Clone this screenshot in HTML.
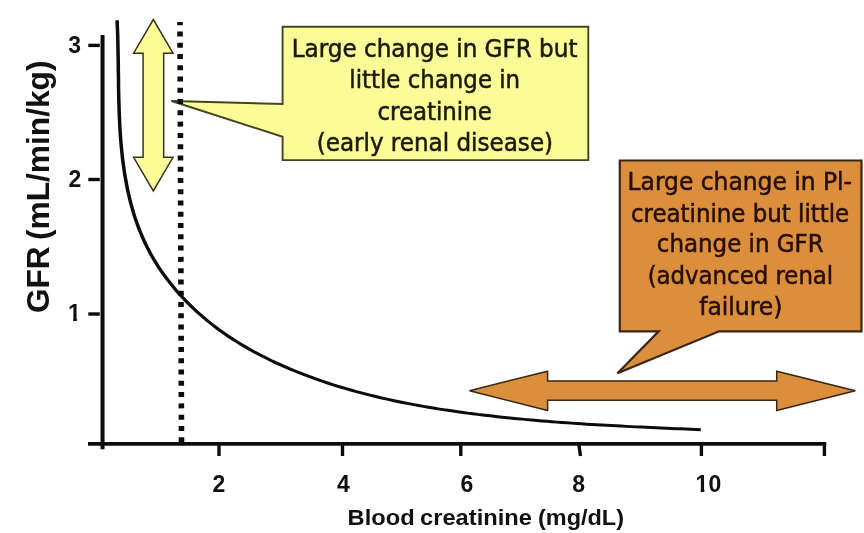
<!DOCTYPE html>
<html><head><meta charset="utf-8"><title>GFR vs blood creatinine</title>
<style>
html,body{margin:0;padding:0;background:#fff;}
body{width:864px;height:533px;overflow:hidden;}
svg{display:block;}
.ax{font-family:"Liberation Sans",sans-serif;font-weight:bold;fill:#111;}
.co{font-family:"DejaVu Sans Condensed","DejaVu Sans","Liberation Sans",sans-serif;font-size:25px;}
</style></head>
<body>
<svg width="864" height="533" viewBox="0 0 864 533">
<rect width="864" height="533" fill="#ffffff"/>
<defs>
<clipPath id="c1"><path d="M60 298 H90 V318 H76.9 V324 H73.2 V318 H60 Z"/></clipPath>
<clipPath id="c10"><path d="M690 470 H730 V496 H708.2 V489 H704.4 V496 H700.7 V489 H690 Z"/></clipPath>
</defs>

<!-- axes -->
<g stroke="#0c0c0c" stroke-width="4" fill="none" stroke-linecap="butt">
  <line x1="102.55" y1="35" x2="102.55" y2="449.3"/>
  <line x1="88" y1="443.9" x2="826.2" y2="443.9" stroke-width="3.6"/>
  <!-- y ticks -->
  <g stroke-width="3.4">
  <line x1="88.3" y1="45.4" x2="99.8" y2="45.4"/>
  <line x1="88.3" y1="179.5" x2="99.8" y2="179.5"/>
  <line x1="88.3" y1="314" x2="99.8" y2="314"/>
  <!-- x ticks -->
  <line x1="219" y1="444" x2="219" y2="456"/>
  <line x1="342.5" y1="444" x2="342.5" y2="456"/>
  <line x1="460.8" y1="444" x2="460.8" y2="456"/>
  <line x1="578.8" y1="444" x2="580.5" y2="456"/>
  <line x1="701.4" y1="444" x2="701.4" y2="456"/>
  <line x1="824.4" y1="444" x2="824.4" y2="456"/>
  </g>
</g>

<!-- curve -->
<path id="curve" transform="scale(1,0.85)" fill="none" stroke="#0c0c0c" stroke-width="3.5" stroke-linejoin="round" d="M117.1 23.8 L117.3 29.5 L117.5 35.3 L117.7 41.1 L117.8 46.9 L117.9 52.7 L118.0 58.5 L118.1 64.3 L118.2 70.1 L118.3 76.0 L118.3 81.8 L118.4 87.7 L118.5 93.5 L118.5 99.4 L118.6 105.3 L118.7 111.1 L118.8 117.0 L119.0 122.9 L119.1 128.7 L119.3 134.6 L119.5 140.5 L119.7 146.3 L120.0 152.2 L120.3 158.1 L120.7 163.9 L121.1 169.8 L121.6 175.7 L122.1 181.5 L122.6 187.4 L123.3 193.2 L124.0 199.0 L124.7 204.8 L125.6 210.6 L126.5 216.4 L127.4 222.2 L128.5 227.9 L129.6 233.6 L130.8 239.3 L132.2 244.9 L133.5 250.5 L135.0 256.0 L136.6 261.5 L138.3 267.0 L140.1 272.4 L142.0 277.8 L144.0 283.1 L146.1 288.3 L148.3 293.5 L150.6 298.6 L153.1 303.6 L155.6 308.6 L158.2 313.5 L161.0 318.4 L163.8 323.1 L166.8 327.8 L169.8 332.4 L172.9 337.0 L176.1 341.5 L179.4 345.9 L182.8 350.2 L186.2 354.4 L189.7 358.6 L193.3 362.7 L197.0 366.7 L200.7 370.6 L204.5 374.4 L208.3 378.2 L212.2 381.8 L216.2 385.4 L220.2 388.9 L224.2 392.3 L228.3 395.6 L232.5 398.8 L236.7 401.9 L240.9 405.0 L245.2 408.0 L249.5 410.9 L253.9 413.7 L258.3 416.5 L262.7 419.2 L267.2 421.8 L271.6 424.4 L276.1 426.9 L280.7 429.3 L285.2 431.6 L289.8 433.9 L294.4 436.2 L299.0 438.4 L303.7 440.5 L308.3 442.6 L313.0 444.6 L317.7 446.5 L322.3 448.4 L327.0 450.3 L331.8 452.1 L336.5 453.9 L341.2 455.6 L346.0 457.2 L350.8 458.8 L355.5 460.4 L360.3 461.9 L365.1 463.4 L370.0 464.9 L374.8 466.2 L379.6 467.6 L384.5 468.9 L389.3 470.2 L394.2 471.4 L399.0 472.6 L403.9 473.8 L408.8 474.9 L413.7 476.0 L418.6 477.0 L423.5 478.1 L428.4 479.1 L433.3 480.0 L438.2 481.0 L443.1 481.9 L448.0 482.7 L453.0 483.6 L457.9 484.4 L462.8 485.2 L467.7 486.0 L472.7 486.7 L477.6 487.5 L482.6 488.2 L487.5 488.9 L492.4 489.5 L497.4 490.2 L502.3 490.8 L507.3 491.4 L512.2 492.0 L517.2 492.6 L522.1 493.1 L527.1 493.7 L532.0 494.2 L537.0 494.7 L541.9 495.2 L546.9 495.7 L551.8 496.1 L556.8 496.6 L561.7 497.0 L566.7 497.4 L571.7 497.8 L576.6 498.2 L581.6 498.6 L586.5 499.0 L591.5 499.3 L596.5 499.7 L601.4 500.0 L606.4 500.3 L611.4 500.7 L616.3 501.0 L621.3 501.3 L626.3 501.6 L631.2 501.9 L636.2 502.2 L641.2 502.4 L646.1 502.7 L651.1 503.0 L656.1 503.3 L661.0 503.5 L666.0 503.8 L671.0 504.0 L676.0 504.3 L680.9 504.5 L685.9 504.8 L690.9 505.0 L695.8 505.3 L700.8 505.5"/>

<!-- yellow double arrow -->
<polygon fill="#fbfb98" stroke="#35351c" stroke-width="1.5" stroke-linejoin="miter"
 points="153.3,19.5 173,53.2 163.7,53.2 163.7,157.3 173,157.3 153.3,191 133.6,157.3 143.1,157.3 143.1,53.2 133.6,53.2"/>

<!-- yellow callout -->
<polygon fill="#fbfb98" stroke="#44441f" stroke-width="1.9" stroke-linejoin="miter"
 points="282.6,26.8 588.3,26.8 588.3,160.1 282.6,160.1 282.6,136.8 171.5,101 282.6,104"/>
<g class="co" fill="#1a1a0a" stroke="#1a1a0a" stroke-width="0.5" text-anchor="middle" transform="translate(0,0.5)">
<text x="434.6" y="56.1" textLength="285.7" lengthAdjust="spacingAndGlyphs">Large change in GFR but</text>
<text x="434.75" y="87.5" textLength="170.8" lengthAdjust="spacingAndGlyphs">little change in</text>
<text x="434.65" y="119.1" textLength="114.2" lengthAdjust="spacingAndGlyphs">creatinine</text>
<text x="434.9" y="150.5" textLength="236.4" lengthAdjust="spacingAndGlyphs">(early renal disease)</text>
</g>

<!-- dotted line -->
<line x1="180" y1="22" x2="181.5" y2="442" stroke="#0c0c0c" stroke-width="5.6" stroke-dasharray="5 6.27" stroke-dashoffset="1.8"/>

<!-- orange callout -->
<polygon fill="#db8f3c" stroke="#3a2412" stroke-width="2.2" stroke-linejoin="miter"
 points="619.8,160.5 861.5,160.5 861.5,331.3 719.2,331.3 617.5,373.3 658.7,331.3 619.8,331.3"/>
<g class="co" fill="#260e04" stroke="#260e04" stroke-width="0.5" text-anchor="middle" transform="translate(0,0.5)">
<text x="739.8" y="189.8" textLength="224.5" lengthAdjust="spacingAndGlyphs">Large change in Pl-</text>
<text x="740.1" y="221.1" textLength="218.3" lengthAdjust="spacingAndGlyphs">creatinine but little</text>
<text x="740.25" y="251.9" textLength="166.8" lengthAdjust="spacingAndGlyphs">change in GFR</text>
<text x="740.45" y="283.1" textLength="185.6" lengthAdjust="spacingAndGlyphs">(advanced renal</text>
<text x="740.8" y="314.2" textLength="83.1" lengthAdjust="spacingAndGlyphs">failure)</text>
</g>

<!-- orange double arrow -->
<polygon fill="#db8f3c" stroke="#3a2412" stroke-width="1.5" stroke-linejoin="miter"
 points="469.5,390.7 547.6,371.2 547.6,380.9 776.7,380.9 776.7,371.3 855.3,390.7 776.7,410.5 776.7,400.3 547.6,400.3 547.6,410.5"/>

<!-- axis labels -->
<g class="ax" font-size="23px" text-anchor="middle">
<text x="74.6" y="52.6">3</text>
<text x="75" y="186.9">2</text>
<text x="74.5" y="321.3" clip-path="url(#c1)">1</text>
<text x="218.8" y="492">2</text>
<text x="343.4" y="492">4</text>
<text x="466.8" y="492">6</text>
<text x="578.6" y="492">8</text>
<text x="708.4" y="492" clip-path="url(#c10)">10</text>
</g>
<g class="ax" font-size="21.6px">
<text id="xl1" x="347.6" y="524.7" textLength="67" lengthAdjust="spacingAndGlyphs">Blood</text>
<text id="xl2" x="420" y="524.7" textLength="112" lengthAdjust="spacingAndGlyphs">creatinine</text>
<text id="xl3" x="538" y="524.7" textLength="86" lengthAdjust="spacingAndGlyphs">(mg/dL)</text>
</g>
<g class="ax" font-size="31.6px" transform="translate(48.7,312) rotate(-90)">
<text id="yl1" x="-1" y="0" textLength="66.7" lengthAdjust="spacingAndGlyphs">GFR</text>
<text id="yl2" x="72" y="0" textLength="179.5" lengthAdjust="spacingAndGlyphs">(mL/min/kg)</text>
</g>
</svg>
</body></html>
